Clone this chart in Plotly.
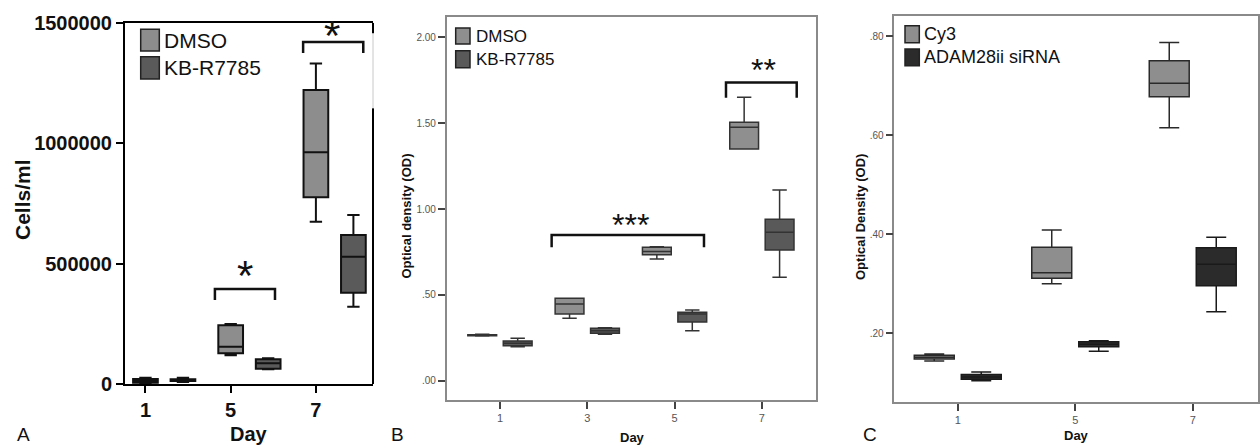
import plotly.graph_objects as go

W, H = 1260, 447

# ---------------- data ----------------
days_A = ["1", "5", "7"]
dmso_A_low = [2800, 119000, 674000]
dmso_A_q1 = [5500, 127400, 775000]
dmso_A_med = [12500, 155000, 962000]
dmso_A_q3 = [20800, 243700, 1220700]
dmso_A_high = [26000, 249000, 1331000]
kb_A_low = [8000, 61000, 321000]
kb_A_q1 = [12000, 63500, 379200]
kb_A_med = [16000, 86000, 528600]
kb_A_q3 = [20000, 102500, 618600]
kb_A_high = [26000, 106700, 701700]

days_B = ["1", "3", "5", "7"]
dmso_B_low = [0.260, 0.364, 0.709, 1.350]
dmso_B_q1 = [0.262, 0.389, 0.733, 1.350]
dmso_B_med = [0.265, 0.447, 0.752, 1.477]
dmso_B_q3 = [0.268, 0.480, 0.777, 1.506]
dmso_B_high = [0.270, 0.480, 0.781, 1.651]
kb_B_low = [0.198, 0.270, 0.291, 0.603]
kb_B_q1 = [0.204, 0.276, 0.342, 0.762]
kb_B_med = [0.218, 0.291, 0.389, 0.865]
kb_B_q3 = [0.231, 0.305, 0.399, 0.941]
kb_B_high = [0.247, 0.309, 0.412, 1.111]

days_C = ["1", "5", "7"]
cy3_C_low = [0.144, 0.300, 0.615]
cy3_C_q1 = [0.148, 0.311, 0.6775]
cy3_C_med = [0.1515, 0.3224, 0.7045]
cy3_C_q3 = [0.1556, 0.3735, 0.750]
cy3_C_high = [0.158, 0.4085, 0.787]
adam_C_low = [0.104, 0.1636, 0.2436]
adam_C_q1 = [0.107, 0.173, 0.296]
adam_C_med = [0.112, 0.178, 0.3392]
adam_C_q3 = [0.117, 0.183, 0.3728]
adam_C_high = [0.122, 0.185, 0.3937]

yticks_A = [0, 500000, 1000000, 1500000]
yticks_B = [0.0, 0.5, 1.0, 1.5, 2.0]
yticklabels_B = [".00", ".50", "1.00", "1.50", "2.00"]
yticks_C = [0.2, 0.4, 0.6, 0.8]
yticklabels_C = [".20", ".40", ".60", ".80"]

# ---------------- helpers ----------------
def px(x):
    return x / W

def py(y):
    return 1 - y / H

FONT = "Liberation Sans, Arial, sans-serif"

fig = go.Figure()

def add_box(xref, yref, offset, width, low, q1, med, q3, high, fill, line_color, lw, name):
    n = len(med)
    fig.add_trace(go.Box(
        x=[i + offset for i in range(n)],
        lowerfence=low, q1=q1, median=med, q3=q3, upperfence=high,
        width=width, whiskerwidth=0.5, boxpoints=False,
        fillcolor=fill, line=dict(color=line_color, width=lw),
        xaxis=xref, yaxis=yref, name=name, showlegend=False, hoverinfo="skip",
    ))

# Panel A
add_box("x", "y", 0.0, 0.29, dmso_A_low, dmso_A_q1, dmso_A_med, dmso_A_q3, dmso_A_high,
        "#8d8d8d", "#111111", 2, "DMSO")
add_box("x", "y", 0.44, 0.29, kb_A_low, kb_A_q1, kb_A_med, kb_A_q3, kb_A_high,
        "#5a5a5a", "#111111", 2, "KB-R7785")
# Panel B
add_box("x2", "y2", -0.203, 0.33, dmso_B_low, dmso_B_q1, dmso_B_med, dmso_B_q3, dmso_B_high,
        "#8f8f8f", "#333333", 1.5, "DMSO")
add_box("x2", "y2", 0.203, 0.33, kb_B_low, kb_B_q1, kb_B_med, kb_B_q3, kb_B_high,
        "#595959", "#333333", 1.5, "KB-R7785")
# Panel C
add_box("x3", "y3", -0.2, 0.34, cy3_C_low, cy3_C_q1, cy3_C_med, cy3_C_q3, cy3_C_high,
        "#8e8e8e", "#2a2a2a", 1.5, "Cy3")
add_box("x3", "y3", 0.2, 0.34, adam_C_low, adam_C_q1, adam_C_med, adam_C_q3, adam_C_high,
        "#2b2b2b", "#1a1a1a", 1.5, "ADAM28ii siRNA")

axA = dict(showgrid=False, zeroline=False, showline=True, linecolor="black", linewidth=2,
           ticks="outside", ticklen=7, tickwidth=2, tickcolor="black", automargin=False)
axBC = dict(showgrid=False, zeroline=False, showline=True, linecolor="#8a8a8a", linewidth=1.5,
            mirror=True, ticks="outside", ticklen=7, tickwidth=1.5, tickcolor="#444",
            automargin=False, tickfont=dict(family=FONT, size=10, color="#555"))

fig.update_layout(
    width=W, height=H, margin=dict(l=0, r=0, t=0, b=0, pad=0), autosize=False,
    paper_bgcolor="white", plot_bgcolor="white", boxmode="overlay", showlegend=False,
    xaxis=dict(axA, domain=[px(125), px(373)], range=[-0.24, 2.67],
               tickvals=[0, 1, 2], ticktext=days_A, mirror=True, anchor="y",
               tickfont=dict(family=FONT, size=20, color="#111", weight="bold")),
    yaxis=dict(axA, domain=[py(384), py(22.7)], range=[0, 1500000],
               tickvals=yticks_A, ticktext=[str(v) for v in yticks_A], anchor="x",
               tickfont=dict(family=FONT, size=20, color="#111", weight="bold")),
    xaxis2=dict(axBC, domain=[px(446.7), px(816)], range=[-0.61, 3.62],
                tickvals=[0, 1, 2, 3], ticktext=days_B, anchor="y2",
                tickfont=dict(family=FONT, size=11, color="#555")),
    yaxis2=dict(axBC, domain=[py(400), py(17.3)], range=[-0.1125, 2.117],
                tickvals=yticks_B, ticktext=yticklabels_B, anchor="x2"),
    xaxis3=dict(axBC, domain=[px(894.3), px(1258.3)], range=[-0.54, 2.558],
                tickvals=[0, 1, 2], ticktext=days_C, anchor="y3",
                tickfont=dict(family=FONT, size=11, color="#555")),
    yaxis3=dict(axBC, domain=[py(402.3), py(16)], range=[0.0607, 0.8404],
                tickvals=yticks_C, ticktext=yticklabels_C, anchor="x3"),
)

shapes = []
annotations = []

# right border of panel A (partially faded as in the original)
shapes.append(dict(type="line", xref="x domain", yref="y", x0=1, x1=1, y0=0, y1=1144700,
                   line=dict(color="black", width=2)))
shapes.append(dict(type="line", xref="x domain", yref="y", x0=1, x1=1, y0=1144700, y1=1456000,
                   line=dict(color="#c8c8c8", width=1)))
shapes.append(dict(type="line", xref="x domain", yref="y", x0=1, x1=1, y0=1456000, y1=1500000,
                   line=dict(color="black", width=2)))

# significance brackets: (xref, yref, x0, x1, y_top, y_leg, star_x, star_y, text, size)
brackets = [
    ("x", "y", 0.815, 1.52, 394400, 348800, 1.168, 450000, "*", 42),
    ("x", "y", 1.85, 2.556, 1420000, 1374000, 2.19, 1447000, "*", 42),
    ("x2", "y2", 0.592, 2.337, 0.849, 0.777, 1.497, 0.905, "***", 32),
    ("x2", "y2", 2.589, 3.399, 1.737, 1.649, 3.013, 1.808, "**", 32),
]
for xr, yr, x0, x1, yt, yl, sx, sy, txt, sz in brackets:
    shapes.append(dict(type="path", xref=xr, yref=yr,
                       path=f"M {x0},{yl} L {x0},{yt} L {x1},{yt} L {x1},{yl}",
                       line=dict(color="#111", width=2.5)))
    annotations.append(dict(xref=xr, yref=yr, x=sx, y=sy, text=txt, showarrow=False,
                            font=dict(family=FONT, size=sz, color="#111"),
                            xanchor="center", yanchor="middle"))

# legends: (x0, x1, y0, y1, color, text, font size, text_x)
legend_items = [
    (140.7, 159.3, 29.3, 51, "#8d8d8d", "DMSO", 21, 162),
    (140.7, 159.3, 56.7, 79, "#5a5a5a", "KB-R7785", 21, 162),
    (455.7, 470, 28, 44, "#8f8f8f", "DMSO", 17, 474),
    (455.7, 470, 50.7, 67.7, "#595959", "KB-R7785", 17, 474),
    (905, 919.3, 25.7, 42.7, "#8e8e8e", "Cy3", 18, 922),
    (905, 919.3, 49, 65.7, "#2b2b2b", "ADAM28ii siRNA", 18, 922),
]
for x0, x1, y0, y1, col, txt, sz, tx in legend_items:
    shapes.append(dict(type="rect", xref="paper", yref="paper",
                       x0=px(x0), x1=px(x1), y0=py(y1), y1=py(y0),
                       fillcolor=col, line=dict(color="#222", width=1.5)))
    annotations.append(dict(xref="paper", yref="paper", x=px(tx), y=py((y0 + y1) / 2),
                            text=txt, showarrow=False, xanchor="left", yanchor="middle",
                            font=dict(family=FONT, size=sz, color="#111")))

# axis titles and panel letters: (x, y, text, size, bold, angle, yanchor)
labels = [
    (22, 200, "Cells/ml", 21, True, -90, "middle"),
    (249, 447, "Day", 20, True, 0, "bottom"),
    (405.5, 216, "Optical density (OD)", 13, True, -90, "middle"),
    (632, 437, "Day", 13, True, 0, "middle"),
    (860, 217, "Optical Density (OD)", 13, True, -90, "middle"),
    (1076.5, 435, "Day", 13, True, 0, "middle"),
    (23, 447, "A", 19, False, 0, "bottom"),
    (397, 447, "B", 19, False, 0, "bottom"),
    (870, 447, "C", 19, False, 0, "bottom"),
]
for x, y, txt, sz, bold, ang, ya in labels:
    annotations.append(dict(xref="paper", yref="paper", x=px(x), y=py(y), text=txt,
                            showarrow=False, xanchor="center", yanchor=ya, textangle=ang,
                            font=dict(family=FONT, size=sz, color="#111",
                                      weight="bold" if bold else "normal")))

fig.update_layout(shapes=shapes, annotations=annotations)
fig.write_html(
    "out.html",
    config={"displayModeBar": False, "responsive": False},
    post_script="document.body.style.margin='0';document.body.style.padding='0';"
                "document.documentElement.style.overflow='hidden';",
)
